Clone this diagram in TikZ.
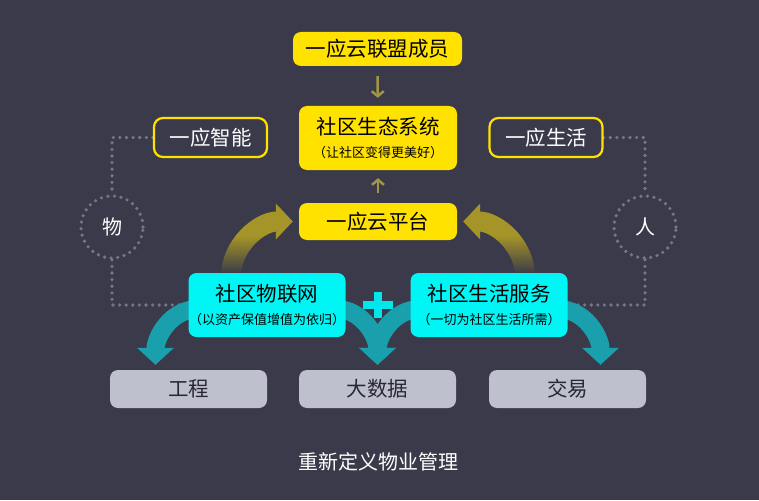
\documentclass[tikz,border=0pt]{standalone}
\usepackage{fontspec}
\setmainfont{Noto Sans CJK SC}
\usetikzlibrary{arrows.meta,positioning,fadings}
\definecolor{bgc}{RGB}{58,58,74}
\definecolor{cyel}{RGB}{255,226,0}
\definecolor{ccyan}{RGB}{0,245,245}
\definecolor{cgray}{RGB}{190,192,206}
\definecolor{ctext}{RGB}{40,40,50}
\definecolor{colive}{RGB}{165,148,40}
\definecolor{colive2}{RGB}{160,150,70}
\definecolor{cteal}{RGB}{25,160,172}
\definecolor{cplus}{RGB}{0,230,235}
\definecolor{cdot}{RGB}{118,118,136}
\newcommand\subtxt{\fontsize{13}{15}\selectfont}
\tikzfading[name=fadeup, top color=transparent!100, bottom color=transparent!0]
\pgfdeclarelayer{background}
\pgfsetlayers{background,main}
\begin{document}
\begin{tikzpicture}[x=1pt,y=-1pt,
    ybox/.style={fill=cyel, rounded corners=8pt, inner sep=0pt, minimum width=158pt, minimum height=37pt,
      text=black, align=center, font=\fontsize{20.5}{23}\selectfont},
    cbox/.style={ybox, fill=ccyan, minimum width=157pt, minimum height=64pt},
    gbox/.style={ybox, fill=cgray, minimum width=157pt, minimum height=38pt, text=ctext},
    obox/.style={draw=cyel, line width=2.2pt, rounded corners=9pt, inner sep=0pt, minimum width=113pt,
      minimum height=39pt, text=white, font=\fontsize{20.5}{23}\selectfont},
    dotc/.style={circle, draw=cdot, line width=3.6pt, dash pattern=on 0pt off 6.6pt, line cap=round,
      minimum size=62pt, text=white, font=\fontsize{20}{23}\selectfont},
    dotl/.style={draw=cdot, line width=3.6pt, dash pattern=on 0pt off 6.6pt, line cap=round},
    olv/.style={draw=colive, line width=20pt, -{Triangle[width=35pt,length=17pt]}},
    tea/.style={draw=cteal, line width=18pt, -{Triangle[width=36pt,length=17pt]}},
    upar/.style={draw=colive2, line width=2.5pt, -{Straight Barb[length=5pt,width=12pt]},
      shorten <=10pt, shorten >=8pt}]
  \useasboundingbox (0,0) rectangle (759,500);
  \node[ybox, minimum width=169pt, minimum height=34pt] (member) at (377.5,49) {一应云联盟成员};
  \node[ybox, minimum height=64pt] (eco) at (378,138) {社区生态系统\\[0pt]{\subtxt （让社区变得更美好）}};
  \node[ybox] (cloud) at (378,221.5) {一应云平台};
  \node[obox] (smart) at (210.5,137.5) {一应智能};
  \node[obox] (life) at (546,137.5) {一应生活};
  \node[dotc] (wu) at (112,227) {物};
  \node[dotc] (ren) at (645,227) {人};
  \node[cbox] (iot) at (267,305) {社区物联网\\[0pt]{\subtxt （以资产保值增值为依归）}};
  \node[cbox] (svc) at (489,305) {社区生活服务\\[0pt]{\subtxt （一切为社区生活所需）}};
  \node[gbox] (eng) at (188.5,389) {工程};
  \node[gbox] (data) at (377.5,389) {大数据};
  \node[gbox] (trade) at (567.5,389) {交易};
  \node[text=white, font=\fontsize{20}{23}\selectfont] (motto) at (378,462) {重新定义物业管理};
  \coordinate (plus) at (378,305);
  \draw[cplus, line width=8pt] ([xshift=-15pt]plus) -- ([xshift=15pt]plus) ([yshift=-13pt]plus) -- ([yshift=13pt]plus);
  \draw[upar] (member) -- (eco);
  \draw[upar] (cloud) -- (eco);
  \begin{pgfonlayer}{background}
    \fill[bgc] (0,0) rectangle (759,500);
    \draw[dotl] (smart.west) -| (wu.north);
    \draw[dotl] (wu.south) |- (iot.west);
    \draw[dotl] (life.east) -| (ren.north);
    \draw[dotl] (ren.south) |- (svc.east);
    \draw[olv] ([xshift=-36pt,yshift=-4pt]iot.north) to[out=90,in=180] ([xshift=-6pt]cloud.west);
    \draw[olv] ([xshift=36pt,yshift=-4pt]svc.north) to[out=90,in=0] ([xshift=6pt]cloud.east);
    \fill[bgc, path fading=fadeup] (195,236) rectangle (270,274);
    \fill[bgc, path fading=fadeup] (486,236) rectangle (561,274);
    \draw[tea] ([xshift=10pt,yshift=-4pt]iot.west) to[out=180,in=90] ([xshift=-33pt,yshift=5pt]eng.north);
    \draw[tea] ([xshift=-10pt,yshift=-4pt]iot.east) to[out=0,in=90] ([yshift=5pt]data.north);
    \draw[tea] ([xshift=10pt,yshift=-4pt]svc.west) to[out=180,in=90] ([yshift=5pt]data.north);
    \draw[tea] ([xshift=-10pt,yshift=-4pt]svc.east) to[out=0,in=90] ([xshift=33pt,yshift=5pt]trade.north);
  \end{pgfonlayer}
\end{tikzpicture}
\end{document}
